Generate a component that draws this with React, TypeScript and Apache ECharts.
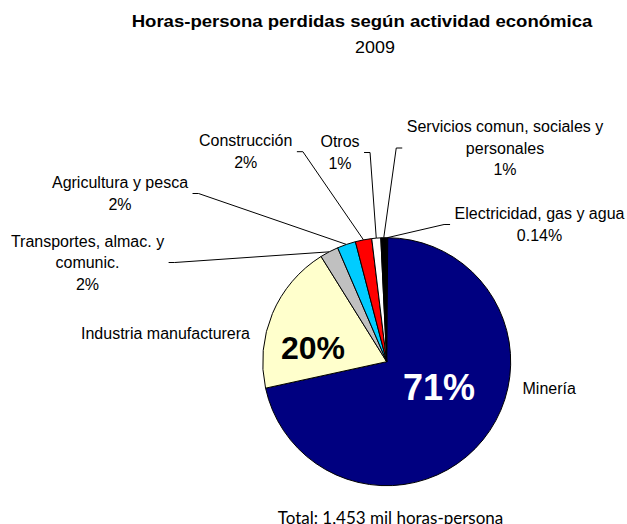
import React, { useEffect, useRef } from "react";
import * as echarts from "echarts";

// ---- Data ----
const categories: string[] = [
  "Electricidad, gas y agua",
  "Minería",
  "Industria manufacturera",
  "Transportes, almac. y\ncomunic.",
  "Agricultura y pesca",
  "Construcción",
  "Otros",
  "Servicios comun, sociales y\npersonales",
];
// miles de horas-persona (total 1,453)
const values: number[] = [2, 1038, 284, 35, 35, 31, 17, 11];
const colors: string[] = [
  "#000080",
  "#000080",
  "#FFFFCC",
  "#C0C0C0",
  "#00CCFF",
  "#FF0000",
  "#FFFFFF",
  "#000000",
];
const titleText = "Horas-persona perdidas según actividad económica";
const subtitleText = "2009";
const totalText = "Total: 1,453 mil horas-persona";

// ---- Layout (label placement, not data) ----
type Pos = { x: number; y: number; align: "left" | "center" | "right"; line?: "left" | "right" };
const OUT_POS: Pos[] = [
  { x: 539.5, y: 224.5, align: "center", line: "left" },
  { x: 522.5, y: 388, align: "left" },
  { x: 250, y: 333, align: "right" },
  { x: 87.5, y: 262.5, align: "center", line: "right" },
  { x: 120, y: 193.5, align: "center", line: "right" },
  { x: 245.7, y: 151.7, align: "center", line: "right" },
  { x: 340, y: 152.5, align: "center", line: "right" },
  { x: 505, y: 148, align: "center", line: "left" },
];
const IN_POS: Record<number, [number, number]> = { 1: [439, 387], 2: [313, 348] };

const pctText = (p: number) => (p < 0.5 ? p.toFixed(2) : String(Math.round(p))) + "%";

export default function App() {
  const ref = useRef<HTMLDivElement>(null);
  useEffect(() => {
    document.body.style.margin = "0";
    if (!ref.current) return;
    const chart = echarts.init(ref.current, null, { renderer: "svg" });
    const total = values.reduce((a, b) => a + b, 0);
    const data = categories.map((name, i) => ({
      name,
      value: values[i],
      itemStyle: { color: colors[i] },
      labelLine: { show: i !== 1 && i !== 2 },
    }));
    const center = [386.7, 361.7];
    const radius = 124;

    chart.setOption({
      animation: false,
      backgroundColor: "#ffffff",
      graphic: [
        {
          type: "text",
          x: 362,
          y: 21,
          scaleX: 1.16,
          style: {
            text: titleText,
            font: "bold 16px 'Liberation Sans', Arial, sans-serif",
            fill: "#000",
            align: "center",
            verticalAlign: "middle",
          },
        },
        {
          type: "text",
          x: 375,
          y: 47.5,
          scaleX: 1.12,
          style: {
            text: subtitleText,
            font: "16px 'Liberation Sans', Arial, sans-serif",
            fill: "#000",
            align: "center",
            verticalAlign: "middle",
          },
        },
        {
          type: "text",
          x: 390.5,
          y: 517,
          style: {
            text: totalText,
            font: "17px Lato, 'Open Sans', sans-serif",
            fill: "#000",
            align: "center",
            verticalAlign: "middle",
          },
        },
      ],
      series: [
        {
          type: "pie",
          center,
          radius,
          startAngle: 90,
          clockwise: true,
          avoidLabelOverlap: false,
          itemStyle: { borderColor: "#000", borderWidth: 1 },
          label: {
            show: true,
            position: "outside",
            fontFamily: "'Liberation Sans', Arial, sans-serif",
            fontSize: 16,
            lineHeight: 21.5,
            color: "#000",
            formatter: (p: any) => {
              if (p.dataIndex === 1 || p.dataIndex === 2) return p.name;
              return p.name + "\n" + pctText((p.value / total) * 100);
            },
          },
          labelLine: { show: true, length: 10, length2: 10, lineStyle: { color: "#000", width: 1 } },
          labelLayout: (params: any) => {
            const pos = OUT_POS[params.dataIndex];
            const w = params.labelRect.width;
            const res: any = { x: pos.x, y: pos.y, align: pos.align, verticalAlign: "middle" };
            if (pos.line && params.labelLinePoints && params.labelLinePoints.length) {
              const start = params.labelLinePoints[0];
              let edge: number;
              if (pos.align === "center") edge = pos.line === "left" ? pos.x - w / 2 : pos.x + w / 2;
              else edge = pos.x;
              const dir = pos.line === "left" ? -1 : 1;
              const a = edge + dir * 4.5;
              const b = a + dir * 6;
              res.labelLinePoints = [start, [b, pos.y], [a, pos.y]];
            }
            return res;
          },
          data,
        },
        {
          type: "pie",
          center,
          radius,
          startAngle: 90,
          clockwise: true,
          silent: true,
          avoidLabelOverlap: false,
          itemStyle: { color: "transparent", borderWidth: 0 },
          labelLine: { show: false },
          label: {
            show: true,
            position: "inside",
            fontFamily: "'Liberation Sans', Arial, sans-serif",
            fontWeight: "bold",
            formatter: (p: any) =>
              p.dataIndex === 1 || p.dataIndex === 2 ? pctText((p.value / total) * 100) : "",
          },
          labelLayout: (params: any) => {
            const pp = IN_POS[params.dataIndex];
            if (!pp) return {};
            return { x: pp[0], y: pp[1], align: "center", verticalAlign: "middle" };
          },
          data: categories.map((name, i) => ({
            name,
            value: values[i],
            label:
              i === 1
                ? { show: true, color: "#fff", fontSize: 36 }
                : i === 2
                ? { show: true, color: "#000", fontSize: 32 }
                : { show: false },
          })),
        },
      ],
    });
    return () => chart.dispose();
  }, []);
  return <div ref={ref} style={{ width: 627, height: 524 }} />;
}
